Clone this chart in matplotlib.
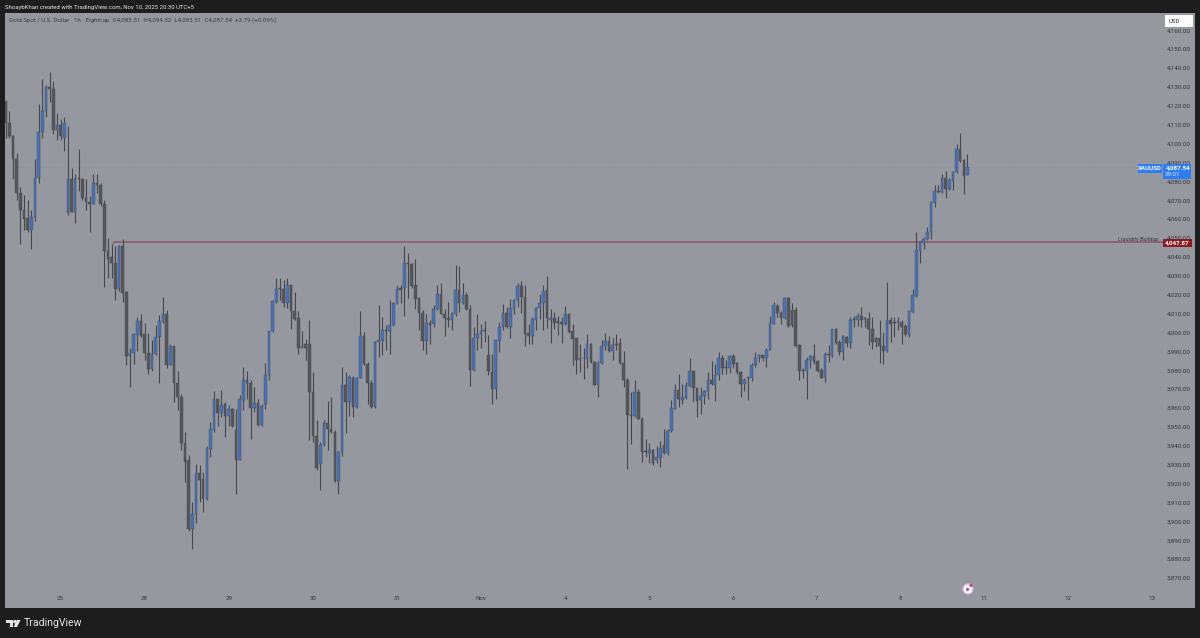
import matplotlib
matplotlib.use("Agg")
import matplotlib.pyplot as plt
from matplotlib.patches import Rectangle, Polygon, Ellipse

opens = [
4122,4111,4104,4092,4074,4065,4060.5,4054,4061,4082,
4106,4117,4130,4129,4107,4110,4103,4063,4081,4064,
4081.5,4081,4071,4069,4068,4079,4078,4068,4043,4040,
4037,4023,4046,4021.5,3987.4,3989,3998.5,4006,3999.4,3989,
3980.5,3988.8,3997.6,4006,4010,3983,3992.7,3973,3966,3941.7,
3932.3,3896,3904,3925.8,3922.3,3912,3938.5,3948.2,3964.5,3957.4,
3962,3955.6,3959.3,3948.2,3932.7,3964,3974.7,3973.3,3960,3962.7,
3950.9,3962.3,3977.3,4000.8,4016.2,4023.2,4022.9,4015.6,4025,4011.4,
4007.7,3992,3993.6,3993.6,3968.5,3945.2,3930.2,3940.6,3952,3949,
3947.3,3921.4,3936.8,3972,3962.9,3976.1,3960.6,3976.1,3998.2,3983.5,
3973.3,3960.6,3995,3995.5,4001.2,4000.6,4003.8,4015.3,4023.7,4023.7,
4037,4036.1,4025,4018.3,4010.3,3995.3,4005,4004.2,4012.3,4020.2,
4010,4007.7,4006.8,4010,4022.2,4015.6,4020,4012.3,3980,3996.8,
3999,4001.2,3987.9,3979.1,3970.3,3995.5,4002.9,4010.5,4002.9,4012.6,
4017,4024.6,4018.8,3999.7,3998,4006.8,4013,4015.3,4022.7,4006.5,
4007.7,4005.8,4005.6,4004.2,4009.6,4000.6,3996.8,3985.6,3986.2,3985.8,
3994.1,3984.4,3972.4,3984,3992.9,3995.3,3990.2,3993.8,3994.5,3983.9,
3974.7,3956.5,3955.8,3968.2,3954.4,3937.3,3936.4,3938,3932.3,3933.6,
3940.3,3935.9,3947.7,3959.7,3969.4,3964.1,3965.3,3971.7,3979.5,3970.6,
3964.1,3966.2,3968.9,3975,3972,3977.7,3986.2,3981.8,3981.4,3987.4,
3983.9,3978.8,3972.6,3976.1,3975.6,3982.5,3986.7,3988.3,3986.7,3990.9,
4004.7,4014,4010.4,4007.7,4018,4011.8,4011.8,3993.2,3980,3979.6,
3985.3,3987.4,3984.9,3980,3976.5,3988.5,3987.6,4001.7,3994.7,3989.7,
3997.6,3994.5,4006.8,4006.5,4008.8,4007.4,4007,4002,3996.8,3996.8,
3992.9,3990.2,4006.8,4005.2,4005.4,4005.6,4003.3,3998.5,4010.9,4019.4,
4043.2,4047.4,4049.4,4053.2,4068.6,4074.8,4074.4,4081.8,4075.8,4080.2,
4085,4097.3,4091.2,4083.51]
highs = [
4123,4117,4104.5,4095,4077,4073,4070,4065,4092,4121,
4134,4131,4138,4133,4116,4113,4114,4109,4087,4084,
4097,4081.5,4081,4072,4084,4084,4079,4070,4050,4047,
4046,4046.5,4049.5,4022,3992,3999.7,4008,4009.5,4005,3999.7,
3996,4003.8,4009,4019,4011.7,3993.7,3993,3979.6,3967.6,3947.3,
3935,3910.3,3930.2,3929.7,3926,3939.8,3952.6,3969,3965,3969.4,
3963.2,3961.5,3960,3959.7,3967,3981.7,3979.6,3974.7,3971,3964.5,
3962.3,3983.9,4001,4017.4,4029,4029,4028,4029,4025.3,4021.5,
4011.4,4001,3996.7,4006.4,3979,3953.5,3942,3953.5,3963.8,3965.9,
3948.2,3937.3,3981.7,3979,3977.3,3976.8,3976.5,4011.2,4000.3,3984.4,
3974.7,3995.3,4014.4,4007.9,4003.8,4017,4016.2,4025,4025,4045.6,
4042,4036.5,4038.6,4018.8,4011.7,4010,4006.5,4014.4,4025,4025.9,
4012.6,4016,4010.9,4035.6,4035,4026.4,4021.5,4014.4,4002.9,4009.5,
4004.7,4006,3998.5,3988.8,3996.2,4005.6,4014.9,4013.5,4017.9,4017.9,
4026.2,4027.3,4025.3,4004.3,4007.9,4013.2,4020.2,4025,4029.7,4012.3,
4010.9,4008.6,4007.9,4014,4010,4004.7,3997.3,3993.8,3991.5,3998.9,
3994.5,3984.8,3984.8,3996.2,3999.9,3998,3996.8,3999.4,3996.8,3990.2,
3975.6,3968.2,3975,3969.8,3955.3,3943.5,3941.7,3938.5,3939.8,3942.4,
3948.6,3949.1,3964.1,3972.9,3977.9,3972.9,3973.8,3986.7,3980,3971.2,
3971.2,3969.4,3978.8,3984.9,3983.5,3989.4,3988.3,3985.6,3988.3,3988.8,
3984.4,3979.6,3975.6,3976.5,3983.9,3989.4,3988.8,3988.3,3991.8,4008.6,
4016.2,4014.8,4011.4,4018.8,4018.8,4015.6,4013.2,3993.8,3980.9,3987,
3987.9,3994.1,3985.6,3980.9,3989.4,3993.2,4002,4002.4,3995.9,3998.5,
3998,4008.2,4008.6,4010.4,4013.5,4008.2,4010.9,4007.9,3997.6,4006.5,
4000.3,4026.8,4008.2,4008.2,4007.9,4006.5,4004.4,4011.8,4023.2,4052.9,
4048.5,4050.6,4055.9,4069.5,4078,4078,4084.1,4085.5,4081.5,4085.5,
4099.6,4105.3,4092,4094.32]
lows = [
4103,4103,4081,4070,4047,4054,4053,4044,4059,4079,
4103,4114,4122,4105,4102,4102,4096,4062,4064,4058,
4075,4070,4065,4053,4068,4074,4067,4024,4029,4029,
4017,4022,4016,3982.6,3971,3983.5,3990,3997.6,3985.6,3978,
3979.6,3988,3973,4005,3981,3982.5,3963,3958.8,3937.6,3920.9,
3895,3885.6,3899,3910.3,3905,3911.5,3934,3947.3,3950.3,3955,
3944.7,3950.3,3950,3914.7,3932.3,3958.8,3964.5,3943.8,3958,3950.3,
3950.5,3959.7,3974.7,4000.3,4015.6,4017,4013.5,4013,4002,4006.8,
3988.8,3992,3985.6,3942.9,3942,3927,3916.5,3940,3937.6,3946.5,
3920.9,3914.7,3934.5,3946.5,3955.6,3955.3,3960,3975.6,3982.6,3962.3,
3960,3960,3987,3988,3990.6,3988.8,4003.3,4015,4015.6,4008.6,
4018,4023.7,4012.3,4001.2,3990.6,3988.8,3994.1,4002.6,4011.8,4009.6,
3998.2,4003,4001.2,4008.9,4010.9,4014.9,4011.8,3971.7,3979.6,3990.9,
3991.5,3995,3977.3,3962,3965,3989.7,4001.5,4002.4,3996.8,4010,
4013.2,4010.3,3992.9,3994.1,3994.1,4001.2,4007.3,4001.2,4002.4,3994.6,
4002,3998.5,3994.6,4003.8,3999.7,3982.6,3978.2,3979.1,3975.2,3981.4,
3984,3972,3965.9,3983.5,3990.6,3989.7,3985.3,3990.6,3983.5,3971.2,
3927.9,3940.8,3955.3,3953.9,3931.5,3934.1,3931.1,3930,3930.6,3929,
3935.5,3935,3947.3,3959.2,3960.6,3962.3,3965,3971.2,3963.2,3955.3,
3957,3962,3964.5,3972,3963.8,3974.7,3978.2,3978.2,3978.6,3980.9,
3977.9,3965.9,3969,3964.1,3974.4,3981.8,3984.4,3984.9,3981.8,3990.6,
4004.4,4008.2,4004.2,4007,4002.6,4002.9,3992.4,3974.7,3976.1,3965,
3980.9,3983.5,3978.8,3975.6,3973.8,3984.4,3987,3993.8,3987.9,3985.3,
3992.4,3991.8,4002.6,4003.5,4003,4002.6,3993.2,3991.1,3992.4,3984,
3983.5,3989.7,3995,3997.6,4001.2,3994.1,3998,3997.6,4010.5,4018.8,
4036.8,4044.4,4048.8,4049.7,4066.5,4073.9,4073.9,4070.9,4075.3,4075.3,
4084.5,4090.3,4073.5,4083.51]
closes = [
4111,4104,4092,4074,4065,4060,4054,4061,4082,4106,
4117,4130,4129,4107,4110,4104,4111,4081,4064,4081,
4081,4071,4069,4068,4079,4078,4068,4043,4039,4037,
4023,4046,4021,3987.4,3989,3999,4006,3998,3989,3980.5,
3988.8,3997.6,4006,4010,3983,3992.7,3973,3966,3941.7,3931.5,
3896,3904,3925.8,3922,3912,3938.9,3948.7,3964.5,3957.4,3961.8,
3955.6,3959.7,3950.5,3932.7,3964.5,3974.7,3973,3960,3962.7,3950.9,
3961,3977.7,4000.8,4016.7,4023.2,4022.9,4015.6,4025.3,4011.4,4007,
3991.8,3992.7,3991.8,3968.5,3945.2,3928,3940.6,3952,3949,3947.3,
3921.4,3936.8,3972,3962.9,3976.5,3960.6,3976.1,3998.2,3983.2,3973.3,
3960.6,3995,3995.9,4001.5,4000.5,4003.8,4015.3,4022.9,4022.3,4037,
4036,4024.5,4017.9,4010.3,3995.3,4005,4004,4012.6,4020.2,4010,
4007.7,4006.8,4010,4022.2,4015.6,4019.7,4012.3,3980,3996.8,3999,
4000.6,4000.6,3979.5,3970.3,3995.9,4002.9,4010.5,4002.9,4013,4017.4,
4024.5,4018.8,3999.4,3998,4007.2,4013,4015.3,4021.8,4007.7,4007.7,
4005,4005,4004.2,4009.6,4000.3,3996.4,3985.3,3986.7,3986.7,3994.1,
3984.4,3972.4,3984,3992.9,3995.3,3990.2,3993.2,3993.4,3983.9,3974.7,
3956.2,3955.8,3968.2,3954.4,3936.8,3936.9,3938,3930.6,3933.8,3939,
3935.9,3947.9,3960,3969.4,3965,3965.9,3972,3979.5,3970.6,3963.6,
3966.2,3968.9,3975,3972.9,3977.7,3986.5,3981.4,3981.3,3987.4,3983.5,
3978.8,3972.6,3975,3975.8,3983,3986.7,3987.9,3986.7,3990.9,4005.2,
4014.4,4010.4,4007.7,4018,4003.5,4003.8,3992.9,3979.6,3979.6,3985.6,
3987.4,3984.4,3979.6,3976.1,3988.8,3987.9,4001.7,3994.5,3989.7,3998,
3994.5,4006.5,4006.5,4008.8,4006.5,4007,4002,3995,3995,3992.7,
3990.2,4006.8,4004.7,4004.9,4005.9,4003,3999,4011.2,4019.7,4043.5,
4047.6,4049.7,4053.2,4069,4074.6,4074.4,4082,4075.8,4080.6,4085,
4097.3,4090.8,4082.9,4087.54]

price_ticks = list(range(3870, 4170, 10))
day_positions = [15, 38, 61, 84, 107, 130, 153, 176, 199, 221.6, 244.6, 267.4, 290.4, 313.4]
day_labels = ["25", "28", "29", "30", "31", "Nov", "4", "5", "6", "7", "8", "11", "12", "13"]
last_price = 4087.54
level_price = 4047.87
level_start = 29
header = "ShoaybKhan created with TradingView.com, Nov 10, 2025 20:30 UTC+5"
legend = "Gold Spot / U.S. Dollar · 1h · Eightcap  O4,083.51  H4,094.32  L4,083.51  C4,087.54  +3.79 (+0.09%)"

W, H = 1200, 638
BG = "#95989f"
DARK = "#1d1d1d"
TXT = "#33353b"
plt.rcParams["font.family"] = ["Roboto", "DejaVu Sans"]

fig = plt.figure(figsize=(W / 100, H / 100), dpi=100, facecolor=DARK)
L, R, T, B = 5, 1195, 13, 608
ax = fig.add_axes([L / W, 1 - B / H, (R - L) / W, (B - T) / H], facecolor=BG)

BAR_PX = 3.657
X0_PX = 5.7
PX_PER_USD = 1.889
ax.set_xlim((L - X0_PX) / BAR_PX, (R - X0_PX) / BAR_PX)
ax.set_ylim(4100 - (B - 143.5) / PX_PER_USD, 4100 + (143.5 - T) / PX_PER_USD)

xs = list(range(len(opens)))
for x, o, h, l, c in zip(xs, opens, highs, lows, closes):
    up = c >= o
    ax.vlines(x, l, h, color="#45474d", lw=0.8, zorder=3)
    ax.bar(x, max(abs(c - o), 0.4), bottom=min(o, c), width=0.72,
           color="#4a72b6" if up else "#55575c",
           edgecolor="#3f4c68" if up else "#45464b", linewidth=0.3, zorder=4)

ax.axhline(last_price, color="#838ba6", lw=0.6, ls=(0, (1, 2)), zorder=1)
ax.hlines(level_price, level_start + 0.3, (1164 - X0_PX) / BAR_PX,
          color="#8f5a6c", lw=1.2, zorder=2)
ax.vlines(level_start + 0.3, level_price - 1.0, level_price, color="#8f5a6c", lw=0.8, zorder=2)

ax.yaxis.tick_right()
ax.set_yticks(price_ticks)
ax.set_yticklabels([f"{p:,}.00" for p in price_ticks], fontsize=4.5, color=TXT)
ax.tick_params(axis="y", length=0, pad=-20.5)
ax.set_xticks(day_positions)
ax.set_xticklabels(day_labels, fontsize=4.4, color=TXT)
ax.tick_params(axis="x", length=0, pad=-9.0)
for spine in ax.spines.values():
    spine.set_visible(False)


def px(x, y):
    return x / W, 1 - y / H


def box(x0, y0, x1, y1, color, z=6):
    fig.add_artist(Rectangle(px(x0, y1), (x1 - x0) / W, (y1 - y0) / H,
                             transform=fig.transFigure, facecolor=color,
                             edgecolor="none", zorder=z))


def dot(x, y, r, color, z=7):
    fig.add_artist(Ellipse(px(x, y), 2 * r / W, 2 * r / H, transform=fig.transFigure,
                           facecolor=color, edgecolor="none", zorder=z))


def label(x, y, s, size, color, **kw):
    fx, fy = px(x, y)
    fig.text(fx, fy, s, fontsize=size, color=color, va="center", zorder=8, **kw)


label(5, 7, header, 4.3, "#e4e4e4")
label(9, 20, legend, 4.4, "#3a3c42")

# USD button
box(1165, 15, 1193, 27, "#fbfbfb")
label(1174, 21.5, "USD", 4.4, "#33353b", ha="center")

# last-price tags
box(1138, 164, 1162, 172.5, "#2f7df0")
label(1150, 168.3, "XAUUSD", 4.4, "white", ha="center", fontweight="bold")
box(1163, 164, 1191, 179, "#2f7df0")
label(1178, 168, "4,087.54", 4.5, "white", ha="center", fontweight="bold")
label(1172, 174.5, "29:01", 4.4, "#d9e8ff", ha="center")

# level tag
label(1159, 239, "Liquidity Buildup", 4.1, "#3a3c42", ha="right", style="italic")
box(1163, 239, 1192, 247, "#8c1a22")
label(1177.5, 243, "4,047.87", 4.5, "white", ha="center", fontweight="bold")

# small badge
dot(968, 589, 5.6, "#e6b4e8")
dot(968, 589, 4.2, "#ffffff")
dot(967.5, 589.5, 1.6, "#a65a8f")
dot(971, 585.5, 1.5, "#d0306f", z=8)

# footer logo
LOGO = "#e6e6e6"
fig.add_artist(Polygon([px(6, 620), px(13.2, 620), px(13.2, 627), px(9.6, 627),
                        px(9.6, 623.4), px(6, 623.4)], closed=True,
                       transform=fig.transFigure, facecolor=LOGO, edgecolor="none"))
dot(15, 621.7, 1.8, LOGO, z=5)
fig.add_artist(Polygon([px(13.6, 627), px(17, 627), px(20.6, 620), px(17, 620)], closed=True,
                       transform=fig.transFigure, facecolor=LOGO, edgecolor="none"))
label(24, 623.5, "TradingView", 7.6, LOGO)

fig.savefig("out.png", dpi=100, facecolor=DARK)
